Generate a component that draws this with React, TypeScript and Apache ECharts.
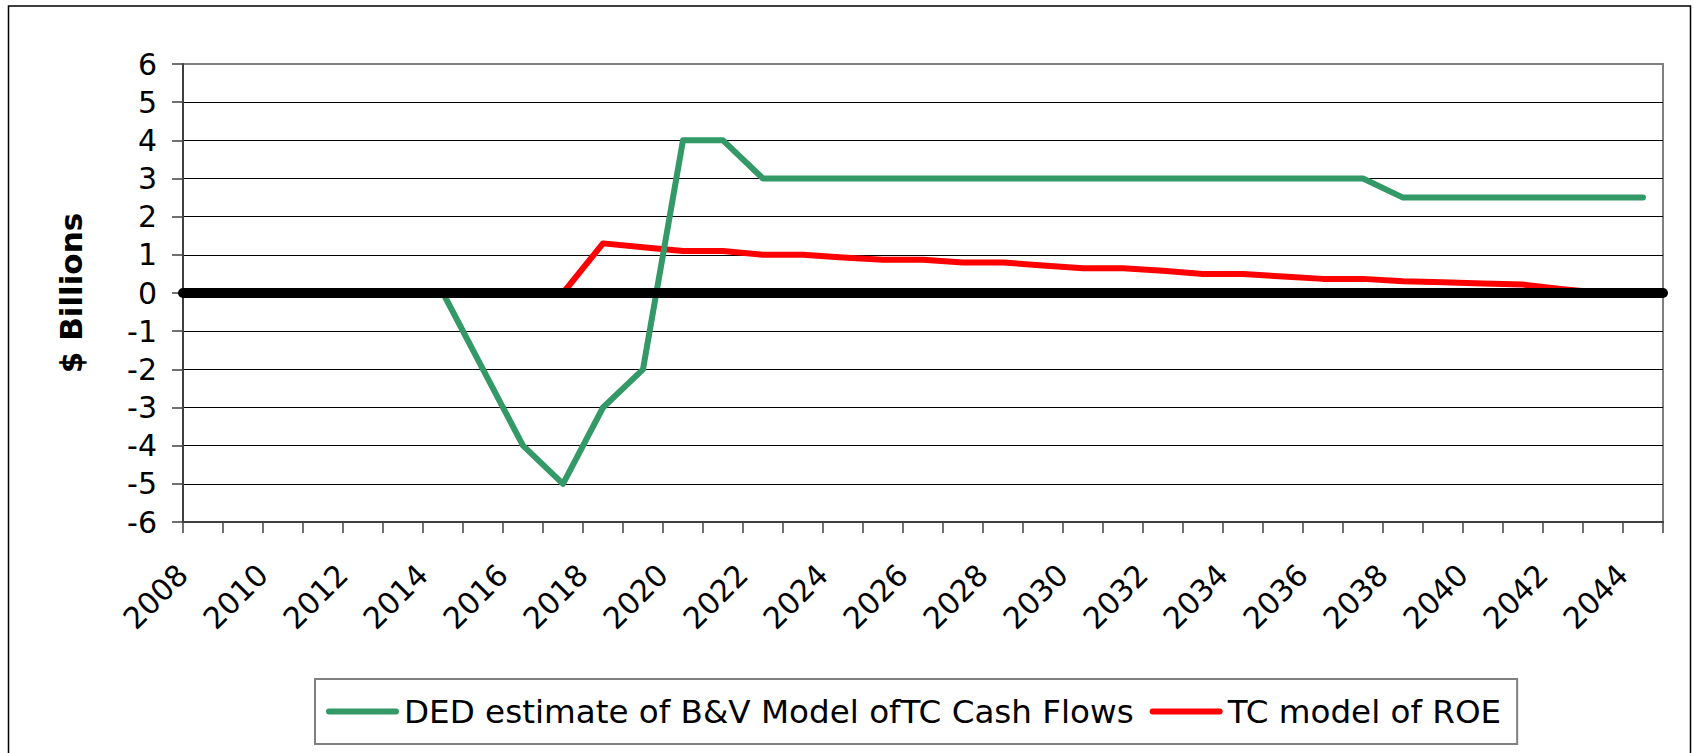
import React, { useEffect, useRef } from "react";
import * as echarts from "echarts";

const FONT = "'DejaVu Sans', 'Liberation Sans', Arial, sans-serif";

const years = [
  "2008", "2009", "2010", "2011", "2012", "2013", "2014", "2015", "2016", "2017",
  "2018", "2019", "2020", "2021", "2022", "2023", "2024", "2025", "2026", "2027",
  "2028", "2029", "2030", "2031", "2032", "2033", "2034", "2035", "2036", "2037",
  "2038", "2039", "2040", "2041", "2042", "2043", "2044",
];

const GREEN_NAME = "DED estimate of B&V Model ofTC Cash Flows";
const RED_NAME = "TC model of ROE";

// DED estimate of B&V Model of TC Cash Flows ($ billions)
const dedCashFlows = [
  0, 0, 0, 0, 0, 0, 0, -2, -4, -5,
  -3, -2, 4, 4, 3, 3, 3, 3, 3, 3,
  3, 3, 3, 3, 3, 3, 3, 3, 3, 3,
  2.5, 2.5, 2.5, 2.5, 2.5, 2.5, 2.5,
];

// TC model of ROE ($ billions)
const tcRoe = [
  0, 0, 0, 0, 0, 0, 0, 0, 0, 0,
  1.3, 1.2, 1.1, 1.1, 1.0, 1.0, 0.93, 0.87, 0.87, 0.8,
  0.8, 0.72, 0.65, 0.65, 0.58, 0.5, 0.5, 0.43, 0.37, 0.37,
  0.31, 0.28, 0.25, 0.22, 0.1, 0, 0,
];

const yMin = -6;
const yMax = 6;
const yStep = 1;

const CAPSULE = "path://M3,0 L70,0 A3,3 0 0 1 70,6 L3,6 A3,3 0 0 1 3,0 Z";

export default function App() {
  const ref = useRef<HTMLDivElement>(null);

  useEffect(() => {
    if (!ref.current) return;
    const chart = echarts.init(ref.current, undefined, { renderer: "svg" });
    const option: any = {
      animation: false,
      backgroundColor: "#ffffff",
      textStyle: { fontFamily: FONT },
      graphic: [
        {
          type: "rect",
          silent: true,
          z: -1,
          shape: { x: 8.5, y: 6, width: 1682, height: 800 },
          style: { fill: "none", stroke: "#000000", lineWidth: 1.5 },
        },
      ],
      grid: {
        left: 183,
        top: 64,
        width: 1480,
        height: 458,
        show: true,
        borderColor: "#808080",
        borderWidth: 2,
        backgroundColor: "transparent",
      },
      legend: {
        data: [
          { name: GREEN_NAME, icon: CAPSULE },
          { name: RED_NAME, icon: CAPSULE },
        ],
        left: 315,
        top: 679,
        orient: "horizontal",
        padding: [16, 16, 16, 11],
        itemWidth: 73,
        itemHeight: 7,
        itemGap: 16,
        borderColor: "#808080",
        borderWidth: 2,
        textStyle: { fontSize: 32.6, color: "#000000", fontFamily: FONT },
      },
      xAxis: {
        type: "category",
        data: years,
        boundaryGap: true,
        axisLine: { show: true, onZero: false, lineStyle: { color: "#404040", width: 2 } },
        axisTick: {
          show: true,
          interval: 0,
          length: 11,
          inside: false,
          alignWithLabel: false,
          lineStyle: { color: "#404040", width: 1.5 },
        },
        axisLabel: {
          interval: 1,
          rotate: 45,
          margin: 27,
          padding: [0, 29, 0, 0],
          color: "#000000",
          fontSize: 30,
          fontFamily: FONT,
        },
        splitLine: { show: false },
      },
      yAxis: {
        type: "value",
        min: yMin,
        max: yMax,
        interval: yStep,
        name: "$ Billions",
        nameLocation: "middle",
        nameRotate: 90,
        nameGap: 97,
        nameTextStyle: { fontSize: 31, fontWeight: "bold", color: "#000000", fontFamily: FONT },
        axisLine: { show: true, lineStyle: { color: "#404040", width: 2 } },
        axisTick: { show: true, length: 11, lineStyle: { color: "#404040", width: 1.5 } },
        axisLabel: { margin: 26, fontSize: 30, color: "#000000", fontFamily: FONT },
        splitLine: {
          show: true,
          showMaxLine: false,
          showMinLine: false,
          lineStyle: { color: "#000000", width: 1 },
        },
      },
      series: [
        {
          name: RED_NAME,
          type: "line",
          data: tcRoe,
          symbol: "none",
          z: 2,
          lineStyle: { color: "#ff0000", width: 6, cap: "round", join: "round" },
          itemStyle: { color: "#ff0000" },
        },
        {
          name: GREEN_NAME,
          type: "line",
          data: dedCashFlows,
          symbol: "none",
          z: 3,
          lineStyle: { color: "#339966", width: 6, cap: "round", join: "round" },
          itemStyle: { color: "#339966" },
        },
        {
          name: "zero",
          type: "line",
          data: [],
          symbol: "none",
          z: 4,
          markLine: {
            silent: true,
            z: 6,
            symbol: ["none", "none"],
            label: { show: false },
            lineStyle: { color: "#000000", width: 10, type: "solid", cap: "round" },
            emphasis: { disabled: true },
            data: [{ yAxis: 0 }],
          },
        },
      ],
    };
    chart.setOption(option);
    return () => chart.dispose();
  }, []);

  return (
    <div
      ref={ref}
      style={{ position: "absolute", left: 0, top: 0, width: 1694, height: 753, background: "#fff" }}
    />
  );
}
